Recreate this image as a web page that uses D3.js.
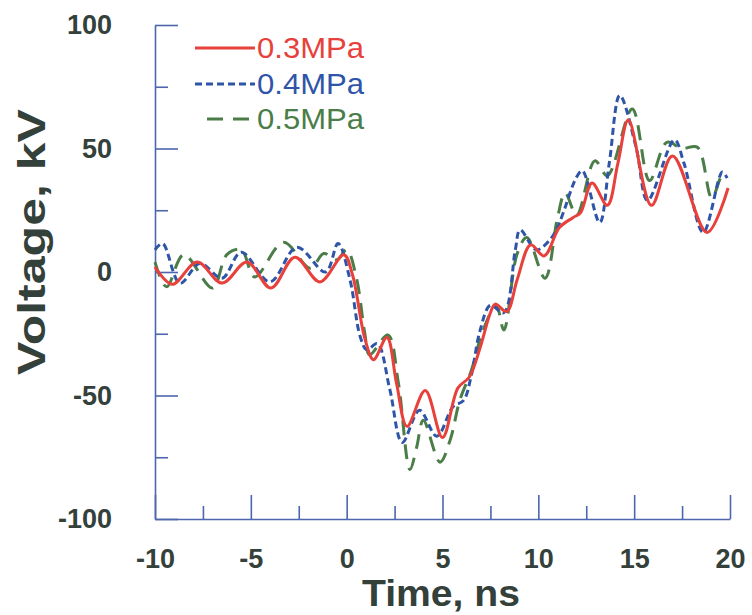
<!DOCTYPE html>
<html>
<head>
<meta charset="utf-8">
<script src="https://cdn.jsdelivr.net/npm/d3@7"></script>
<style>
  html, body { margin: 0; padding: 0; background: #ffffff; }
  svg { display: block; font-family: "Liberation Sans", Arial, sans-serif; }
</style>
</head>
<body>
<svg id="chart" width="752" height="615"></svg>
<script>
// Pulse voltage waveforms at three gas pressures
const seriesNames = ["0.3MPa", "0.4MPa", "0.5MPa"];

const timeA = [-10, -9.1, -7.8, -6.5, -5.2, -3.95, -2.7, -1.4, -0.15, 0.3, 0.95, 1.4, 2.1, 2.6, 3.15, 4.1, 5.0, 5.8, 6.4, 6.95, 7.5, 7.75, 8.35, 8.9, 9.6, 10.3, 11.1, 11.8, 12.2, 12.8, 13.6, 14.15, 14.7, 15.9, 17.0, 18.8, 19.9];
const voltA = [2, -5, 4, -4.5, 4, -6.5, 6, -4, 7, -1, -27, -35.5, -26.5, -45, -62.5, -48, -67, -47, -42.5, -31, -16.5, -13, -16, -3, 11, 6.5, 18, 22, 24, 36, 27, 44, 61.5, 27, 47, 16, 34];

const timeB = [-10, -9.6, -8.7, -7.65, -6.5, -5.5, -4.0, -2.6, -1.1, -0.45, 0.17, 0.7, 1.05, 1.6, 2.25, 2.9, 3.8, 4.7, 5.55, 6.1, 6.5, 6.95, 7.5, 8.2, 8.8, 9.05, 9.9, 10.6, 11.0, 11.3, 12.0, 12.3, 13.2, 13.7, 14.25, 15.1, 15.7, 17.1, 17.6, 18.6, 19.6, 19.85];
const voltB = [9, 11.5, -4.5, 3.5, -2.5, 8, -4, 10, 0, 11.5, -3, -26, -31.5, -29, -47.5, -69, -56, -66.5, -54.5, -52, -42, -24, -13.5, -16.5, 9, 17, 9, 13, 18, 24, 38.5, 41, 20, 44, 71.5, 50.5, 29, 53.5, 44, 16, 40.5, 38];

const timeC = [-10, -9.4, -8.5, -7.0, -6.25, -5.5, -4.8, -3.3, -1.9, -1.2, -0.5, 0, 0.5, 0.95, 1.2, 2.15, 2.7, 3.3, 3.65, 4.0, 4.87, 5.4, 5.9, 6.5, 7.1, 7.8, 8.2, 8.9, 9.4, 10.35, 11.0, 11.4, 12.0, 12.95, 13.6, 14.9, 15.8, 16.7, 17.5, 18.3, 19.05, 19.6, 19.85];
const voltC = [4, -6, 7, -6.5, 7, 9, -2, 12, 1.5, 7.5, 5, 9, -2, -25, -33.5, -25.5, -45, -80, -71, -60, -77, -68, -52, -40, -24, -13.5, -23.5, 7.5, 14, -2.5, 22, 32, 23, 45, 39, 66, 37, 52.5, 50, 50.5, 30, 39, 38];

const xMajorTicks = [-10, -5, 0, 5, 10, 15, 20];
const xMinorTicks = [-7.5, -2.5, 2.5, 7.5, 12.5, 17.5];
const yMajorTicks = [-100, -50, 0, 50, 100];
const yMinorTicks = [-75, -25, 25, 75];

const colors = ["#e8413b", "#2f55a8", "#4a7d47"];
const dashes = [null, "7,4", "15,9"];

const svg = d3.select("#chart");
const plotLeft = 155, plotRight = 730, plotTop = 25, plotBottom = 519;

const x = d3.scaleLinear().domain([-10, 20]).range([plotLeft, plotRight]);
const y = d3.scaleLinear().domain([-100, 100]).range([plotBottom, plotTop]);

const axisColor = "#4d66ad";
const labelColor = "#34403a";
const plainNumber = d => String(d);   // keeps an ASCII hyphen for negatives

// Axes with inward-pointing ticks
function styleAxis(g) {
  g.select(".domain").attr("stroke", axisColor).attr("stroke-width", 1.6);
  g.selectAll(".tick line").attr("stroke", axisColor).attr("stroke-width", 1.6);
  g.selectAll(".tick text")
    .attr("fill", labelColor)
    .attr("font-size", 27)
    .attr("font-weight", "bold")
    .attr("font-family", "'Liberation Sans', Arial, sans-serif");
}

const xAxis = svg.append("g").attr("transform", `translate(0,${plotBottom})`)
  .call(d3.axisBottom(x).tickValues(xMajorTicks).tickSize(-24).tickPadding(30).tickSizeOuter(0).tickFormat(plainNumber));
styleAxis(xAxis);

svg.append("g").attr("transform", `translate(0,${plotBottom})`)
  .call(d3.axisBottom(x).tickValues(xMinorTicks).tickSize(-13).tickSizeOuter(0).tickFormat(""))
  .call(g => { g.select(".domain").remove(); g.selectAll(".tick line").attr("stroke", axisColor).attr("stroke-width", 1.6); });

const yAxis = svg.append("g").attr("transform", `translate(${plotLeft},0)`)
  .call(d3.axisLeft(y).tickValues(yMajorTicks).tickSize(-23).tickPadding(43).tickSizeOuter(0).tickFormat(plainNumber));
styleAxis(yAxis);

svg.append("g").attr("transform", `translate(${plotLeft},0)`)
  .call(d3.axisLeft(y).tickValues(yMinorTicks).tickSize(-13).tickSizeOuter(0).tickFormat(""))
  .call(g => { g.select(".domain").remove(); g.selectAll(".tick line").attr("stroke", axisColor).attr("stroke-width", 1.6); });

// Axis titles
svg.append("text")
  .attr("x", 441).attr("y", 606)
  .attr("text-anchor", "middle")
  .attr("font-size", 36).attr("font-weight", "bold")
  .attr("textLength", 158).attr("lengthAdjust", "spacingAndGlyphs")
  .attr("fill", labelColor)
  .text("Time, ns");

svg.append("text")
  .attr("transform", "translate(45,242) rotate(-90)")
  .attr("text-anchor", "middle")
  .attr("font-size", 38).attr("font-weight", "bold")
  .attr("textLength", 266).attr("lengthAdjust", "spacingAndGlyphs")
  .attr("fill", labelColor)
  .text("Voltage, kV");

// Waveforms
const series = [
  { name: seriesNames[0], t: timeA, v: voltA },
  { name: seriesNames[1], t: timeB, v: voltB },
  { name: seriesNames[2], t: timeC, v: voltC }
];

const line = d3.line()
  .x(d => x(d[0]))
  .y(d => y(d[1]))
  .curve(d3.curveCatmullRom.alpha(0.5));

// Draw green first, then blue, then red on top
[2, 1, 0].forEach(i => {
  const s = series[i];
  svg.append("path")
    .datum(d3.zip(s.t, s.v))
    .attr("fill", "none")
    .attr("stroke", colors[i])
    .attr("stroke-width", 3)
    .attr("stroke-dasharray", dashes[i])
    .attr("stroke-linejoin", "round")
    .attr("d", line);
});

// Legend
const legendY = [48, 84, 119];
const legend = svg.append("g");
seriesNames.forEach((name, i) => {
  const x0 = i === 2 ? 207 : 195;
  legend.append("line")
    .attr("x1", x0).attr("x2", 255)
    .attr("y1", legendY[i]).attr("y2", legendY[i])
    .attr("stroke", colors[i]).attr("stroke-width", 3)
    .attr("stroke-dasharray", i === 2 ? "16,10" : dashes[i]);
  legend.append("text")
    .attr("x", 257).attr("y", legendY[i])
    .attr("dy", "0.36em")
    .attr("font-size", 29)
    .attr("textLength", 107).attr("lengthAdjust", "spacingAndGlyphs")
    .attr("fill", colors[i])
    .text(name);
});
</script>
</body>
</html>
